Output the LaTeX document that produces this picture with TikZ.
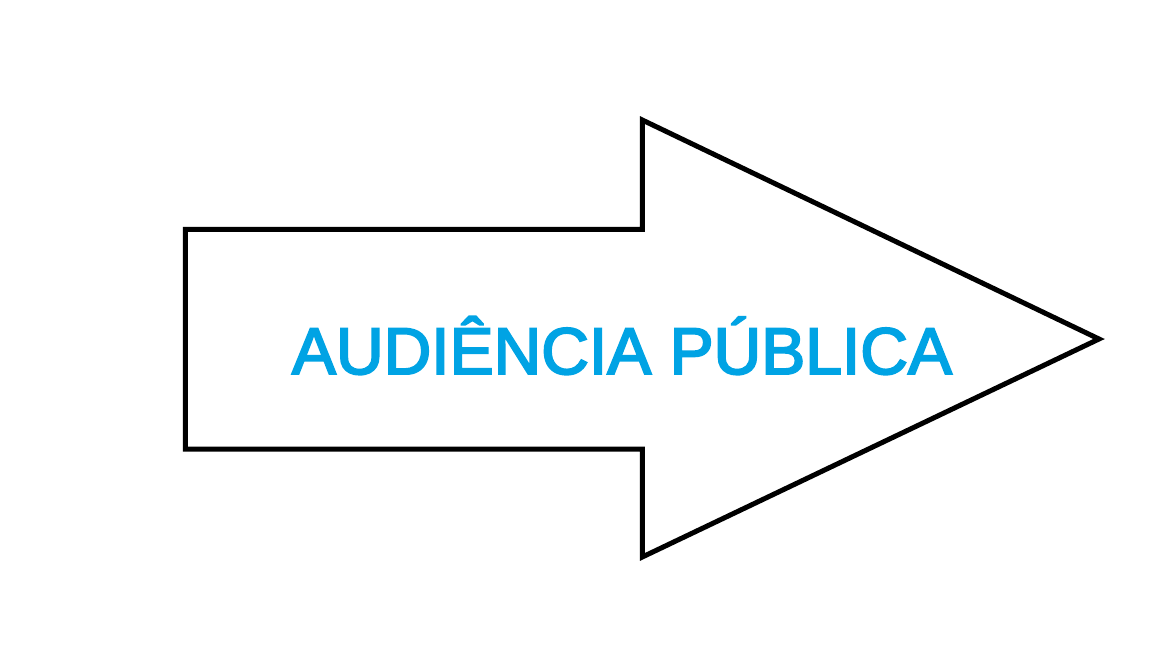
\documentclass[tikz,border=0pt]{standalone}
\usepackage{fontspec}
\setmainfont{Liberation Sans}
\newfontfamily\labelfont[FakeBold=3]{Liberation Sans}
\definecolor{txtblue}{HTML}{00A3E4}
\tikzset{arrowshape/.style={draw=black,line width=5pt,line join=miter,fill=white},
  label/.style={text=txtblue,font=\labelfont\fontsize{66}{66}\selectfont,inner sep=0pt}}
\begin{document}
\begin{tikzpicture}[x=1pt,y=-1pt]
\useasboundingbox[fill=white] (0,0) rectangle (1152,648);
\coordinate (p1) at (185.3,229.3);
\coordinate (p2) at (642.3,229.3);
\coordinate (p3) at (642.3,120);
\coordinate (tip) at (1099,339);
\coordinate (p5) at (642.3,557);
\coordinate (p6) at (642.3,449);
\coordinate (p7) at (185.3,449);
\draw[arrowshape] (p1) -- (p2) -- (p3) -- (tip) -- (p5) -- (p6) -- (p7) -- cycle;
\node[label,anchor=base] (t) at (622,374) {AUDIÊNCIA PÚBLICA};
\end{tikzpicture}
\end{document}
